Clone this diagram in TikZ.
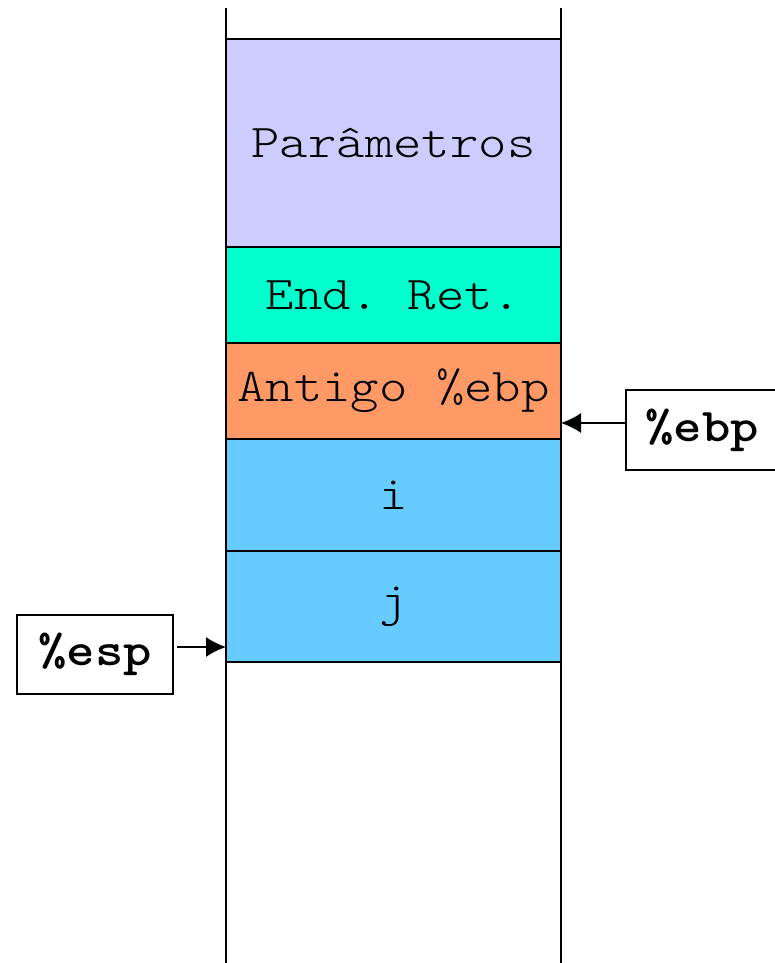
\documentclass[tikz,border=0pt]{standalone}
\usepackage{fontspec}
\setmonofont{Latin Modern Mono Light}[FakeStretch=1.15]
\usetikzlibrary{positioning,arrows.meta}

\begin{document}
\begin{tikzpicture}
[
    x=0.5pt, y=-0.5pt,
    cell/.style={draw, line width=0.9pt, outer sep=0pt, minimum width=167.5pt,
        inner sep=0pt, font=\fontsize{23.5}{28}\selectfont\ttfamily},
    reg/.style={draw, line width=0.8pt, outer sep=0pt, minimum height=40pt,
        inner sep=0pt, font=\fontsize{23.5}{28}\selectfont\ttfamily\bfseries},
    ptr/.style={line width=0.8pt, -{Latex[length=10pt,width=10pt]}},
]
\useasboundingbox (0,0) rectangle (775,963);
\coordinate (ltop) at (226,8);
\coordinate (rtop) at (561,8);
\coordinate (lbot) at (226,963);
\coordinate (rbot) at (561,963);
\draw [line width=0.9pt] (ltop) -- (lbot);
\draw [line width=0.9pt] (rtop) -- (rbot);
\node [cell, fill={rgb,255:red,204;green,204;blue,255}, minimum height=104pt,
    anchor=north west] (par) at (226,39) {Parâmetros};
\node [cell, fill={rgb,255:red,0;green,255;blue,204}, minimum height=48pt,
    below=0pt of par] (ret) {End. Ret.};
\node [cell, fill={rgb,255:red,255;green,153;blue,102}, minimum height=48pt,
    below=0pt of ret] (ant) {Antigo \%ebp};
\node [cell, fill={rgb,255:red,102;green,204;blue,255}, minimum height=56pt,
    below=0pt of ant] (vari) {i};
\node [cell, fill={rgb,255:red,102;green,204;blue,255}, minimum height=55.5pt,
    below=0pt of vari] (varj) {j};
\node [reg, minimum width=76pt] (ebp) at (702,430) {\%ebp};
\node [reg, minimum width=78pt, minimum height=39.5pt] (esp) at (95,654.5) {\%esp};
\coordinate (ebpin) at ([yshift=3.5pt]ebp.west);
\coordinate (espout) at ([xshift=2pt,yshift=3.75pt]esp.east);
\draw [ptr] (ebpin) -- (ebpin -| ant.east);
\draw [ptr] (espout) -- (espout -| varj.west);
\end{tikzpicture}
\end{document}
